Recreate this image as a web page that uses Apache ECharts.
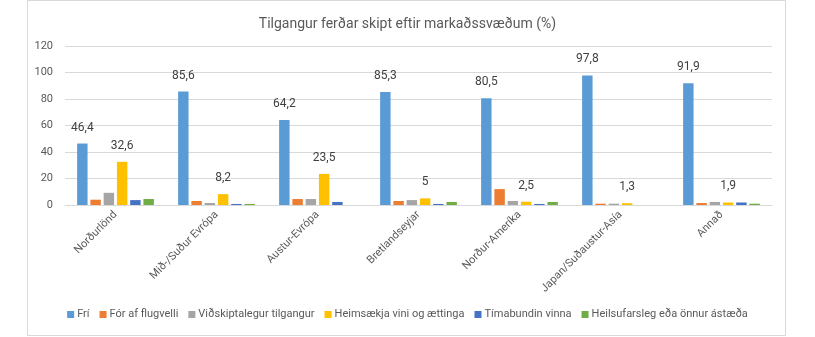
<!DOCTYPE html>
<html>
<head>
<meta charset="utf-8">
<script src="https://cdn.jsdelivr.net/npm/echarts@6/dist/echarts.min.js"></script>
<style>
  html, body { margin: 0; padding: 0; background: #ffffff; }
  #chart { width: 815px; height: 337px; }
</style>
</head>
<body>
<div id="chart"></div>
<script>
// Markaðssvæði
const categories = ['Norðurlönd', 'Mið-/Suður Evrópa', 'Austur-Evrópa', 'Bretlandseyjar', 'Norður-Ameríka', 'Japan/Suðaustur-Asía', 'Annað'];

// Tilgangur ferðar (%)
const fri          = [46.4, 85.6, 64.2, 85.3, 80.5, 97.8, 91.9];
const forAfFlug    = [4.0, 3.0, 4.5, 3.0, 12.0, 1.0, 1.5];
const vidskipti    = [9.2, 1.5, 4.5, 3.7, 3.0, 1.0, 2.3];
const heimsaekja   = [32.6, 8.2, 23.5, 5, 2.5, 1.3, 1.9];
const timabundin   = [3.7, 0.8, 2.3, 0.8, 0.8, 0, 1.9];
const heilsufar    = [4.5, 0.8, 0, 2.3, 2.3, 0, 1.0];

const yTicks = [0, 20, 40, 60, 80, 100, 120];

const seriesDefs = [
  { name: 'Frí', data: fri, color: '#5b9bd5', label: true },
  { name: 'Fór af flugvelli', data: forAfFlug, color: '#ed7d31', label: false },
  { name: 'Viðskiptalegur tilgangur', data: vidskipti, color: '#a5a5a5', label: false },
  { name: 'Heimsækja vini og ættinga', data: heimsaekja, color: '#ffc000', label: true },
  { name: 'Tímabundin vinna', data: timabundin, color: '#4472c4', label: false },
  { name: 'Heilsufarsleg eða önnur ástæða', data: heilsufar, color: '#70ad47', label: false }
];

const FONT = 'Roboto, "Liberation Sans", sans-serif';

const chart = echarts.init(document.getElementById('chart'), null, { renderer: 'canvas' });

chart.setOption({
  animation: false,
  backgroundColor: '#ffffff',
  textStyle: { fontFamily: FONT },
  title: {
    text: 'Tilgangur ferðar skipt eftir markaðssvæðum (%)',
    left: 'center',
    top: 12,
    textStyle: { fontFamily: FONT, fontSize: 14, fontWeight: 'normal', color: '#595959' }
  },
  graphic: [{
    type: 'rect',
    shape: { x: 27.5, y: 0.5, width: 758, height: 335 },
    style: { fill: 'none', stroke: '#d9d9d9', lineWidth: 1 },
    silent: true
  }],
  legend: {
    bottom: 12,
    left: 'center',
    itemWidth: 7,
    itemHeight: 7,
    itemGap: 10,
    icon: 'rect',
    textStyle: { fontFamily: FONT, fontSize: 11, color: '#595959', padding: [0, 0, 0, -2] }
  },
  grid: { left: 65, right: 43, top: 46, bottom: 132 },
  xAxis: {
    type: 'category',
    data: categories,
    axisLine: { lineStyle: { color: '#d9d9d9' } },
    axisTick: { show: false },
    axisLabel: { rotate: 45, color: '#595959', fontSize: 11, fontFamily: FONT, margin: 8, interval: 0 }
  },
  yAxis: {
    type: 'value',
    min: yTicks[0],
    max: yTicks[yTicks.length - 1],
    interval: 20,
    axisLine: { show: false },
    axisTick: { show: false },
    axisLabel: { color: '#595959', fontSize: 11, fontFamily: FONT, margin: 12 },
    splitLine: { lineStyle: { color: '#d9d9d9' } }
  },
  series: seriesDefs.map(s => ({
    name: s.name,
    type: 'bar',
    data: s.data,
    barGap: '27%',
    barCategoryGap: '24%',
    itemStyle: { color: s.color },
    label: {
      show: s.label,
      position: 'top',
      distance: 10,
      color: '#404040',
      fontSize: 12,
      fontFamily: FONT,
      formatter: p => String(p.value).replace('.', ',')
    }
  }))
});
</script>
</body>
</html>
